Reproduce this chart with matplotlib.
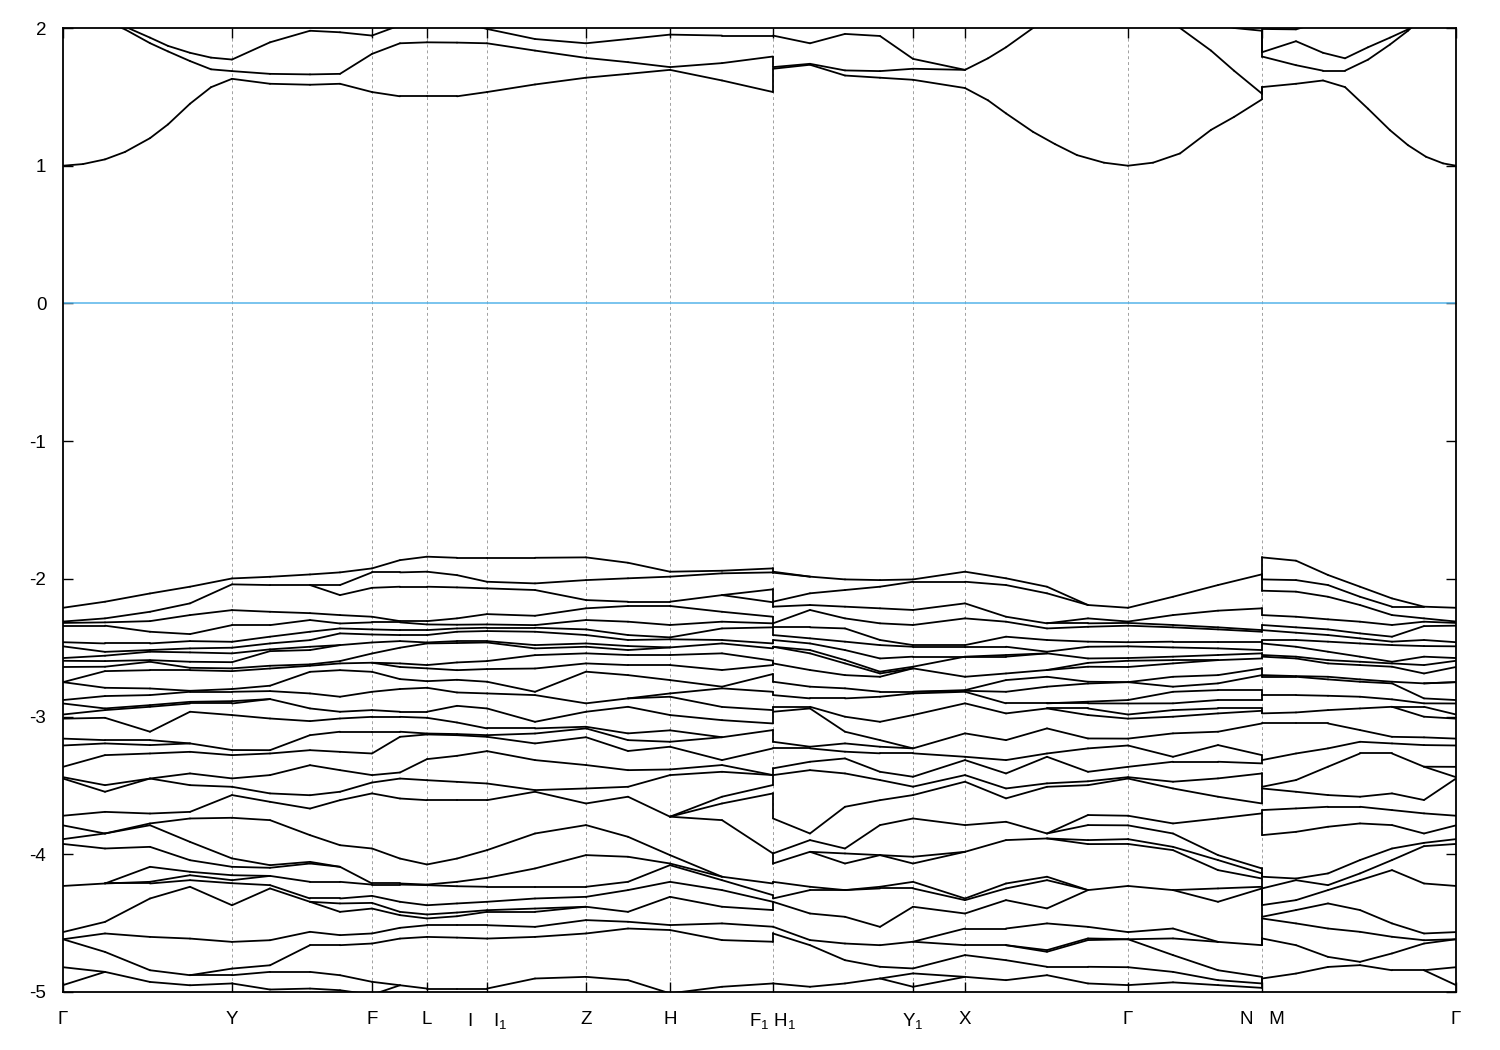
import matplotlib
matplotlib.use("Agg")
import matplotlib.pyplot as plt
from matplotlib.collections import LineCollection

plt.rcParams['font.family'] = ['Liberation Sans', 'DejaVu Sans']
plt.rcParams['axes.unicode_minus'] = False
plt.rcParams['mathtext.fontset'] = 'custom'
plt.rcParams['mathtext.rm'] = 'Liberation Sans'
plt.rcParams['mathtext.it'] = 'Liberation Sans'

# ---------------- k path ----------------
tick_k = [0, 169, 309, 364, 424, 523, 607, 710, 850, 902, 1065, 1199, 1393]
tick_labels = ['Γ', 'Y', 'F', 'L', 'I    I$_1$', 'Z', 'H', 'F$_1$ H$_1$',
               'Y$_1$', 'X', 'Γ', 'N   M', 'Γ']

# k points where the valence levels were read
k_val = [0, 42, 87, 127, 169, 207, 247, 277, 309, 337, 364, 394, 424, 472,
         523, 565, 607, 659, 710,
         710, 747, 782, 817, 850, 902, 943, 984, 1025, 1065, 1110, 1155, 1199,
         1199, 1233, 1265, 1297, 1329, 1361, 1393]

# k points where the conduction levels were read
k_con = [0, 20, 42, 62, 87, 105, 127, 148, 169, 207, 247, 277, 309, 337, 364, 394, 424,
         472, 523, 565, 607, 659, 710,
         710, 747, 782, 817, 850, 902, 925, 943, 970, 992, 1014, 1041, 1065, 1090, 1117,
         1148, 1171, 1199,
         1199, 1233, 1260, 1282, 1305, 1327, 1345, 1363, 1380, 1393]

# ---------------- valence bands (eV) read at each k point ----------------
v_G = [-2.21, -2.31, -2.32, -2.34, -2.46, -2.49, -2.575, -2.595, -2.64, -2.75, -2.75,
       -2.88, -2.905, -2.985, -3.015, -3.16, -3.21, -3.365, -3.44, -3.45, -3.72, -3.79,
       -3.89, -3.925, -4.23, -4.565, -4.617, -4.617, -4.82, -4.95]
v_105 = [-2.166, -2.287, -2.316, -2.34, -2.469, -2.53, -2.558, -2.597, -2.638, -2.67,
         -2.791, -2.851, -2.941, -2.953, -3.009, -3.171, -3.195, -3.28, -3.498, -3.546,
         -3.692, -3.849, -3.849, -3.958, -4.212, -4.491, -4.575, -4.709, -4.854]
v_150 = [-2.106, -2.239, -2.307, -2.384, -2.469, -2.517, -2.529, -2.590, -2.602, -2.663,
         -2.796, -2.844, -2.917, -2.929, -3.110, -3.171, -3.207, -3.268, -3.450, -3.704,
         -3.776, -3.789, -3.946, -4.091, -4.200, -4.212, -4.321, -4.600, -4.842, -4.927]
v_190 = [-2.057, -2.178, -2.263, -2.401, -2.452, -2.505, -2.534, -2.602, -2.646, -2.663,
         -2.813, -2.820, -2.893, -2.905, -2.965, -3.195, -3.256, -3.413, -3.498, -3.692,
         -3.740, -3.910, -4.043, -4.127, -4.152, -4.188, -4.236, -4.612, -4.878, -4.951]
v_Y = [-1.997, -2.040, -2.227, -2.336, -2.457, -2.500, -2.541, -2.605, -2.650, -2.670,
       -2.800, -2.820, -2.888, -2.905, -2.989, -3.243, -3.280, -3.449, -3.510, -3.570,
       -3.735, -4.030, -4.091, -4.152, -4.188, -4.21, -4.37, -4.636, -4.830, -4.878, -4.938]
v_270 = [-1.985, -2.045, -2.239, -2.336, -2.420, -2.469, -2.512, -2.525, -2.631, -2.651,
         -2.776, -2.815, -2.873, -3.014, -3.244, -3.268, -3.425, -3.558, -3.619, -3.752,
         -4.079, -4.098, -4.157, -4.224, -4.248, -4.624, -4.806, -4.854, -4.982]
v_310 = [-1.968, -2.045, -2.249, -2.299, -2.384, -2.445, -2.493, -2.517, -2.621, -2.631,
         -2.675, -2.832, -2.941, -3.033, -3.135, -3.244, -3.353, -3.571, -3.668, -3.861,
         -4.055, -4.067, -4.200, -4.321, -4.345, -4.563, -4.660, -4.854, -4.975]
v_340 = [-1.953, -2.045, -2.118, -2.263, -2.324, -2.360, -2.396, -2.481, -2.597, -2.614,
         -2.663, -2.856, -2.965, -3.014, -3.110, -3.256, -3.389, -3.546, -3.607, -3.934,
         -4.091, -4.200, -4.321, -4.357, -4.418, -4.587, -4.660, -4.878, -4.987]
v_F = [-1.924, -1.953, -2.065, -2.275, -2.316, -2.367, -2.404, -2.462, -2.542, -2.609,
       -2.675, -2.820, -2.953, -3.002, -3.110, -3.268, -3.425, -3.479, -3.558, -3.958,
       -4.212, -4.220, -4.302, -4.353, -4.394, -4.575, -4.648, -4.926, -5.02]
v_400 = [-1.864, -1.953, -2.057, -2.307, -2.316, -2.372, -2.408, -2.452, -2.500, -2.614,
         -2.64, -2.728, -2.800, -2.965, -3.002, -3.110, -3.147, -3.406, -3.450, -3.595,
         -4.031, -4.212, -4.220, -4.345, -4.418, -4.442, -4.534, -4.612, -4.951]
v_L = [-1.839, -1.948, -2.057, -2.307, -2.331, -2.372, -2.408, -2.462, -2.469, -2.626,
       -2.65, -2.743, -2.791, -2.965, -3.009, -3.123, -3.130, -3.309, -3.462, -3.607,
       -4.074, -4.220, -4.224, -4.370, -4.437, -4.466, -4.515, -4.600, -4.975]
v_457 = [-1.847, -1.973, -2.062, -2.287, -2.333, -2.360, -2.384, -2.452, -2.466, -2.607,
         -2.663, -2.733, -2.825, -2.922, -3.043, -3.127, -3.135, -3.285, -3.474, -3.607,
         -4.031, -4.200, -4.232, -4.357, -4.423, -4.450, -4.515, -4.605, -4.975]
v_I = [-1.847, -2.021, -2.069, -2.256, -2.331, -2.355, -2.379, -2.452, -2.462, -2.597,
       -2.655, -2.747, -2.832, -2.941, -3.086, -3.135, -3.147, -3.251, -3.486, -3.607,
       -3.970, -4.171, -4.236, -4.345, -4.406, -4.418, -4.515, -4.612, -4.975]
v_535 = [-1.847, -2.033, -2.081, -2.268, -2.336, -2.355, -2.384, -2.481, -2.505, -2.554,
         -2.651, -2.820, -2.844, -3.038, -3.086, -3.123, -3.195, -3.316, -3.534, -3.546,
         -3.849, -4.103, -4.236, -4.321, -4.394, -4.418, -4.527, -4.600, -4.902]
v_Z = [-1.844, -2.009, -2.154, -2.214, -2.299, -2.367, -2.408, -2.469, -2.493, -2.541,
       -2.614, -2.674, -2.904, -2.965, -3.074, -3.086, -3.15, -3.352, -3.522,
       -3.631, -3.788, -4.006, -4.236, -4.309, -4.381, -4.478, -4.575, -4.890]
v_628 = [-1.883, -1.996, -2.166, -2.197, -2.311, -2.408, -2.444, -2.488, -2.517, -2.553,
         -2.626, -2.699, -2.868, -2.929, -3.122, -3.171, -3.25, -3.389, -3.510, -3.582,
         -3.873, -4.018, -4.200, -4.260, -4.418, -4.490, -4.539, -4.914]
v_H = [-1.948, -1.984, -2.166, -2.197, -2.335, -2.425, -2.439, -2.498, -2.553, -2.626,
       -2.735, -2.832, -2.856, -2.989, -3.10, -3.183, -3.219, -3.384, -3.425, -3.727,
       -4.006, -4.067, -4.079, -4.200, -4.309, -4.514, -4.550, -5.01]
v_722 = [-1.941, -1.960, -2.118, -2.239, -2.311, -2.360, -2.444, -2.469, -2.541, -2.662,
         -2.783, -2.795, -2.93, -3.026, -3.15, -3.316, -3.352, -3.401, -3.582, -3.631,
         -3.752, -4.163, -4.188, -4.260, -4.381, -4.502, -4.623, -4.962]
v_F1 = [-1.924, -1.953, -2.076, -2.17, -2.275, -2.323, -2.352, -2.469, -2.505, -2.594,
        -2.626, -2.691, -2.820, -2.953, -3.050, -3.098, -3.231, -3.425, -3.497, -3.558,
        -3.994, -4.212, -4.297, -4.345, -4.405, -4.526, -4.635, -4.938]
v_H1 = [-1.948, -1.955, -2.166, -2.202, -2.323, -2.352, -2.408, -2.444, -2.493, -2.614,
        -2.747, -2.844, -2.929, -2.965, -3.183, -3.231, -3.376, -3.425, -3.740, -3.994,
        -4.067, -4.200, -4.321, -4.345, -4.526, -4.575, -4.938]
v_810 = [-1.984, -2.105, -2.190, -2.226, -2.352, -2.432, -2.469, -2.517, -2.541, -2.662,
         -2.783, -2.868, -2.929, -2.941, -3.219, -3.231, -3.328, -3.389, -3.849, -3.897,
         -3.982, -4.236, -4.260, -4.430, -4.623, -4.660, -4.962]
v_845 = [-2.004, -2.081, -2.202, -2.287, -2.360, -2.456, -2.517, -2.590, -2.614, -2.699,
         -2.795, -2.868, -3.001, -3.110, -3.195, -3.255, -3.304, -3.413, -3.655, -3.958,
         -3.994, -4.067, -4.260, -4.454, -4.648, -4.769, -4.938]
v_880 = [-2.009, -2.057, -2.214, -2.323, -2.444, -2.481, -2.578, -2.674, -2.687, -2.711,
         -2.820, -2.856, -3.038, -3.171, -3.219, -3.267, -3.401, -3.461, -3.607, -3.788,
         -4.006, -4.236, -4.248, -4.527, -4.660, -4.817, -4.902]
v_Y1 = [-2.004, -2.021, -2.226, -2.335, -2.481, -2.493, -2.565, -2.638, -2.650, -2.820,
        -2.832, -2.989, -3.231, -3.267, -3.437, -3.509, -3.570, -3.740, -4.018, -4.067,
        -4.200, -4.248, -4.381, -4.635, -4.829, -4.865, -4.962]
v_X = [-1.948, -2.021, -2.178, -2.287, -2.481, -2.493, -2.565, -2.711, -2.808, -2.813,
       -2.820, -2.904, -3.122, -3.292, -3.316, -3.425, -3.473, -3.788, -3.982, -4.321,
       -4.333, -4.430, -4.539, -4.660, -4.732, -4.890]
v_1006 = [-1.996, -2.045, -2.275, -2.311, -2.420, -2.493, -2.553, -2.565, -2.687, -2.735,
          -2.820, -2.904, -2.977, -3.171, -3.316, -3.413, -3.522, -3.594, -3.764, -3.897,
          -4.212, -4.248, -4.333, -4.539, -4.660, -4.769, -4.914]
v_1047 = [-2.057, -2.105, -2.323, -2.360, -2.444, -2.529, -2.541, -2.662, -2.711, -2.783,
          -2.904, -2.941, -3.086, -3.268, -3.292, -3.485, -3.510, -3.849, -3.885, -4.163,
          -4.188, -4.393, -4.502, -4.696, -4.708, -4.817, -4.878]
v_1088 = [-2.190, -2.287, -2.323, -2.348, -2.456, -2.493, -2.578, -2.61, -2.638, -2.747,
          -2.76, -2.892, -2.904, -2.941, -2.989, -3.159, -3.231, -3.401, -3.47, -3.498,
          -3.715, -3.788, -3.897, -3.926, -4.260, -4.527, -4.611, -4.623, -4.817, -4.938]
v_1173 = [-2.130, -2.263, -2.335, -2.352, -2.456, -2.498, -2.565, -2.59, -2.614, -2.711,
          -2.783, -2.820, -2.904, -2.953, -3.001, -3.122, -3.292, -3.328, -3.473, -3.522,
          -3.776, -3.849, -3.946, -3.970, -4.260, -4.539, -4.611, -4.732, -4.854, -4.93]
v_1218 = [-2.045, -2.231, -2.352, -2.367, -2.456, -2.505, -2.553, -2.590, -2.699, -2.759,
          -2.808, -2.880, -2.941, -2.977, -3.110, -3.207, -3.328, -3.449, -3.582, -3.740,
          -4.006, -4.042, -4.115, -4.248, -4.345, -4.636, -4.842, -4.914, -4.95]
v_N = [-1.967, -2.214, -2.372, -2.384, -2.456, -2.517, -2.541, -2.578, -2.650, -2.699,
       -2.808, -2.880, -2.941, -2.958, -3.050, -3.280, -3.340, -3.413, -3.631, -3.703,
       -4.103, -4.139, -4.176, -4.236, -4.248, -4.660, -4.890, -4.938, -4.97]
v_M = [-1.844, -2.004, -2.086, -2.263, -2.335, -2.372, -2.444, -2.469, -2.553, -2.565,
       -2.699, -2.711, -2.844, -2.977, -3.050, -3.316, -3.510, -3.522, -3.679, -3.861,
       -4.163, -4.248, -4.369, -4.454, -4.466, -4.611, -4.902]
v_1296 = [-1.868, -2.009, -2.093, -2.275, -2.352, -2.391, -2.444, -2.493, -2.565, -2.578,
          -2.706, -2.711, -2.844, -2.970, -3.050, -3.268, -3.461, -3.546, -3.667, -3.837,
          -4.176, -4.188, -4.333, -4.405, -4.502, -4.660, -4.866]
v_1328 = [-1.972, -2.045, -2.130, -2.294, -2.367, -2.408, -2.456, -2.529, -2.590, -2.614,
          -2.711, -2.730, -2.849, -2.953, -3.050, -3.231, -3.364, -3.570, -3.655, -3.800,
          -4.139, -4.224, -4.260, -4.357, -4.539, -4.745, -4.818]
v_1360 = [-2.057, -2.130, -2.190, -2.311, -2.396, -2.432, -2.469, -2.565, -2.602, -2.626,
          -2.730, -2.747, -2.856, -2.941, -3.098, -3.183, -3.268, -3.582, -3.655, -3.776,
          -4.042, -4.139, -4.188, -4.405, -4.563, -4.781, -4.805]
v_1392 = [-2.142, -2.202, -2.263, -2.335, -2.420, -2.456, -2.481, -2.602, -2.614, -2.638,
          -2.747, -2.759, -2.875, -2.929, -3.147, -3.195, -3.268, -3.558, -3.679, -3.788,
          -3.958, -4.042, -4.115, -4.502, -4.599, -4.720, -4.842]
v_1424 = [-2.202, -2.287, -2.311, -2.343, -2.444, -2.488, -2.565, -2.626, -2.687, -2.759,
          -2.868, -2.904, -2.929, -3.001, -3.151, -3.207, -3.364, -3.606, -3.703, -3.849,
          -3.917, -3.941, -4.212, -4.575, -4.624, -4.648, -4.842]

# ---------------- conduction bands (eV) read at each k point ----------------
c_G = [1.000, 2.25, 2.30, 2.40]
c_20 = [1.012, 2.15, 2.25, 2.40]
c_42 = [1.046, 2.05, 2.10, 2.40]
c_62 = [1.10, 1.99, 2.01, 2.35]
c_87 = [1.20, 1.89, 1.93, 2.30]
c_105 = [1.30, 1.83, 1.87, 2.25]
c_127 = [1.45, 1.76, 1.82, 2.20]
c_148 = [1.57, 1.70, 1.785, 2.17]
c_Y = [1.631, 1.687, 1.771, 2.15]
c_270 = [1.595, 1.667, 1.896, 2.03]
c_310 = [1.588, 1.663, 1.98, 2.01]
c_340 = [1.595, 1.667, 1.969, 2.02]
c_F = [1.535, 1.812, 1.945, 2.03]
c_400 = [1.504, 1.889, 2.02, 2.05]
c_L = [1.504, 1.896, 2.05, 2.08]
c_457 = [1.504, 1.894, 2.05, 2.06]
c_I = [1.535, 1.889, 1.993, 2.06]
c_535 = [1.590, 1.836, 1.920, 2.06]
c_Z = [1.639, 1.783, 1.889, 2.06]
c_628 = [1.667, 1.752, 1.920, 2.06]
c_H = [1.696, 1.716, 1.952, 2.06]
c_722 = [1.619, 1.745, 1.945, 2.06]
c_F1 = [1.535, 1.793, 1.945, 2.06]
c_H1 = [1.704, 1.716, 1.945, 2.10]
c_810 = [1.733, 1.740, 1.889, 2.10]
c_845 = [1.655, 1.692, 1.957, 2.10]
c_880 = [1.639, 1.687, 1.942, 2.10]
c_Y1 = [1.624, 1.704, 1.776, 2.10]
c_X = [1.564, 1.696, 2.05, 2.15]
c_988 = [1.475, 1.78, 2.08, 2.17]
c_1006 = [1.38, 1.86, 2.10, 2.20]
c_1033 = [1.246, 2.0, 2.12, 2.22]
c_1055 = [1.157, 2.1, 2.15, 2.25]
c_1077 = [1.077, 2.12, 2.2, 2.28]
c_1104 = [1.022, 2.15, 2.22, 2.3]
c_1153 = [1.022, 2.12, 2.2, 2.3]
c_1180 = [1.089, 2.0, 2.1, 2.2]
c_1211 = [1.26, 1.836, 2.05, 2.12]
c_1234 = [1.354, 1.69, 2.0, 2.08]
c_N = [1.482, 1.523, 1.98, 2.05]
c_M = [1.571, 1.793, 1.824, 1.993]
c_1296 = [1.595, 1.73, 1.904, 1.99]
c_1323 = [1.619, 1.69, 1.82, 2.05]
c_1345 = [1.571, 1.69, 1.78, 2.10]
c_1368 = [1.414, 1.77, 1.86, 2.15]
c_1390 = [1.258, 1.88, 1.93, 2.20]
c_1408 = [1.149, 1.98, 1.99, 2.25]
c_1426 = [1.065, 2.10, 2.10, 2.30]
c_1443 = [1.017, 2.20, 2.25, 2.35]

valence_cols = [v_G, v_105, v_150, v_190, v_Y, v_270, v_310, v_340, v_F, v_400, v_L,
                v_457, v_I, v_535, v_Z, v_628, v_H, v_722, v_F1,
                v_H1, v_810, v_845, v_880, v_Y1, v_X, v_1006, v_1047, v_1088, v_G,
                v_1173, v_1218, v_N,
                v_M, v_1296, v_1328, v_1360, v_1392, v_1424, v_G]
conduction_cols = [c_G, c_20, c_42, c_62, c_87, c_105, c_127, c_148, c_Y, c_270, c_310,
                   c_340, c_F, c_400, c_L, c_457, c_I, c_535, c_Z, c_628, c_H, c_722, c_F1,
                   c_H1, c_810, c_845, c_880, c_Y1, c_X, c_988, c_1006, c_1033, c_1055,
                   c_1077, c_1104, c_G, c_1153, c_1180, c_1211, c_1234, c_N,
                   c_M, c_1296, c_1323, c_1345, c_1368, c_1390, c_1408, c_1426, c_1443, c_G]


def link_levels(a, b, extra=0.02):
    """Monotone (ordered) pairing of the sorted levels of two neighbouring k points;
    every level is linked to at least one level on the other side."""
    m, n = len(a), len(b)
    inf = float('inf')
    D = [[inf] * (n + 1) for _ in range(m + 1)]
    D[0][0] = 0.0
    for i in range(1, m + 1):
        for j in range(1, n + 1):
            c = (a[i - 1] - b[j - 1]) ** 2 + extra
            D[i][j] = c + min(D[i - 1][j - 1], D[i - 1][j], D[i][j - 1])
    i, j, pairs = m, n, []
    while i > 0 and j > 0:
        pairs.append((i - 1, j - 1))
        i, j = min([(i - 1, j - 1), (i - 1, j), (i, j - 1)], key=lambda t: D[t[0]][t[1]])
    return pairs


def band_segments(kpts, cols, sink):
    segs = []
    levels = [sorted(c + [sink], reverse=True) for c in cols]
    for q in range(len(levels) - 1):
        a, b = levels[q], levels[q + 1]
        for i, j in link_levels(a, b):
            segs.append([(kpts[q], a[i]), (kpts[q + 1], b[j])])
    return segs


# ---------------- figure ----------------
fig = plt.figure(figsize=(15, 10.5), dpi=100)
ax = fig.add_axes([63 / 1500, 1 - 992 / 1050, (1456 - 63) / 1500, (992 - 28) / 1050])

for kpts, cols, sink in ((k_val, valence_cols, -5.4), (k_con, conduction_cols, 2.5)):
    lc = LineCollection(band_segments(kpts, cols, sink), colors='black', linewidths=1.3,
                        capstyle='round', joinstyle='round', zorder=3)
    ax.add_collection(lc)

# Fermi level
ax.axhline(0, color='#56b4e9', lw=1.1, zorder=2)

# high-symmetry grid lines
for kk in tick_k[1:-1]:
    ax.axvline(kk, color='#a0a0a0', lw=0.7, ls=(0, (3, 3)), zorder=1)

ax.set_xlim(tick_k[0], tick_k[-1])
ax.set_ylim(-5, 2)
ax.set_xticks(tick_k)
ax.set_xticklabels(tick_labels)
ax.set_yticks(range(-5, 3))
ax.set_yticklabels([str(v) for v in range(-5, 3)])
ax.tick_params(axis='both', direction='in', length=7.5, width=1.0,
               top=True, right=True, labelsize=13.5, colors='black')
ax.tick_params(axis='x', pad=14)
ax.tick_params(axis='y', pad=12)
for s in ax.spines.values():
    s.set_linewidth(1.3)

fig.savefig('out.png', dpi=100)
